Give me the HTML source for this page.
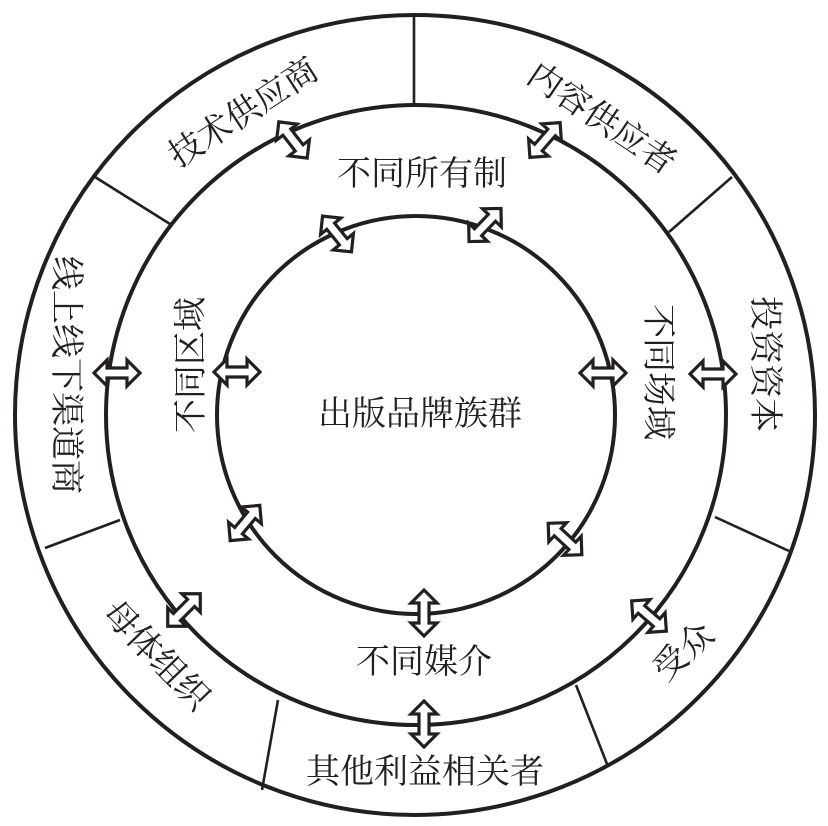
<!DOCTYPE html>
<html><head><meta charset="utf-8"><style>
html,body{margin:0;padding:0;background:#fff;}
svg{display:block;}
text{font-family:"Liberation Serif","Noto Serif CJK SC",serif;fill:#231f20;font-size:34px;}
</style></head><body>
<svg width="828" height="826" viewBox="0 0 828 826" xmlns="http://www.w3.org/2000/svg">
<defs>
<path id="ar" d="M-23,0 L-10,-13 L-10,-5 L10,-5 L10,-13 L23,0 L10,13 L10,5 L-10,5 L-10,13 Z" fill="#fff" stroke="#231f20" stroke-width="3.2" stroke-linejoin="miter"/>
</defs>
<g fill="none" stroke="#231f20" stroke-width="4">
<circle cx="415" cy="415" r="400"/>
<circle cx="416" cy="415" r="310"/>
<circle cx="416" cy="415" r="199"/>
</g>
<g stroke="#231f20" stroke-width="2.6">
<line x1="414" y1="16" x2="414" y2="105"/>
<line x1="95" y1="177" x2="170" y2="224"/>
<line x1="669" y1="232" x2="732" y2="177"/>
<line x1="715" y1="517" x2="789" y2="551"/>
<line x1="576" y1="685" x2="607" y2="764"/>
<line x1="45" y1="548" x2="120" y2="520"/>
<line x1="278" y1="700" x2="262" y2="790"/>
</g>
<use href="#ar" transform="translate(293,140) rotate(52)"/>
<use href="#ar" transform="translate(545,140) rotate(-49)"/>
<use href="#ar" transform="translate(117,373)"/>
<use href="#ar" transform="translate(713,374)"/>
<use href="#ar" transform="translate(184,610) rotate(-45)"/>
<use href="#ar" transform="translate(649,616) rotate(41)"/>
<use href="#ar" transform="translate(424,724) rotate(90)"/>
<use href="#ar" transform="translate(337,234) rotate(51)"/>
<use href="#ar" transform="translate(485,225) rotate(-46)"/>
<use href="#ar" transform="translate(237,372)"/>
<use href="#ar" transform="translate(603,373)"/>
<use href="#ar" transform="translate(245,523) rotate(-50)"/>
<use href="#ar" transform="translate(565,539) rotate(43)"/>
<use href="#ar" transform="translate(424,613) rotate(90)"/>
<text x="420" y="425" text-anchor="middle">出版品牌族群</text>
<text x="422" y="185" text-anchor="middle">不同所有制</text>
<text x="424" y="673" text-anchor="middle">不同媒介</text>
<text x="425" y="783" text-anchor="middle">其他利益相关者</text>
<text transform="translate(243,112) rotate(-33)" text-anchor="middle" dy="12">技术供应商</text>
<text transform="translate(602,118) rotate(34)" text-anchor="middle" dy="12">内容供应者</text>
<text transform="translate(67,375) rotate(90)" text-anchor="middle" dy="12">线上线下渠道商</text>
<text transform="translate(766,364) rotate(90)" text-anchor="middle" dy="12">投资资本</text>
<text transform="translate(190,365) rotate(-90)" text-anchor="middle" dy="12">不同区域</text>
<text transform="translate(659,372) rotate(90)" text-anchor="middle" dy="12">不同场域</text>
<text transform="translate(157,655) rotate(46)" text-anchor="middle" dy="12">母体组织</text>
<text transform="translate(683,651) rotate(-42)" text-anchor="middle" dy="12">受众</text>
</svg>
</body></html>
